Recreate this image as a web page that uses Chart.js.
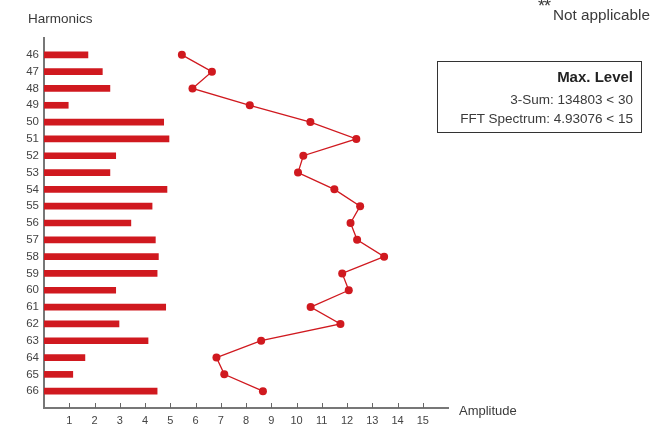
<!DOCTYPE html>
<html>
<head>
<meta charset="utf-8">
<script src="https://cdn.jsdelivr.net/npm/chart.js@4"></script>
<style>
  body { margin: 0; background: #fff; font-family: "Liberation Sans", Arial, sans-serif; color: #3a3a3a; }
  #wrap { position: relative; width: 652px; height: 424px; }
  .lbl { position: absolute; white-space: nowrap; line-height: 1; }
  .r { text-align: right; right: 19px; }
  #box { position: absolute; left: 437px; top: 61px; width: 203px; height: 70px; border: 1px solid #333; }
</style>
</head>
<body>
<div id="wrap">
  <canvas id="chart" width="652" height="424"></canvas>
  <div class="lbl" style="left:28px; top:12px; font-size:13.5px;">Harmonics</div>
  <div class="lbl" style="left:459px; top:404px; font-size:13px;">Amplitude</div>
  <div class="lbl" style="left:538px; top:-3px; font-size:18px; letter-spacing:-1px;">**</div>
  <div class="lbl" style="left:553px; top:7px; font-size:15.3px;">Not applicable</div>
  <div id="box"></div>
  <div class="lbl r" style="top:69px; font-size:15px; font-weight:bold; color:#222;">Max. Level</div>
  <div class="lbl r" style="top:92.5px; font-size:13.5px;">3-Sum: 134803 &lt; 30</div>
  <div class="lbl r" style="top:111.5px; font-size:13.5px;">FFT Spectrum: 4.93076 &lt; 15</div>
</div>
<script>
var harmonics = [46, 47, 48, 49, 50, 51, 52, 53, 54, 55, 56, 57, 58, 59, 60, 61, 62, 63, 64, 65, 66];
var fftValues = [1.74, 2.31, 2.61, 0.96, 4.74, 4.95, 2.84, 2.61, 4.87, 4.28, 3.44, 4.41, 4.53, 4.48, 2.84, 4.82, 2.97, 4.12, 1.62, 1.14, 4.48];
var sumValues = [5.46, 6.65, 5.88, 8.15, 10.55, 12.37, 10.27, 10.06, 11.50, 12.52, 12.14, 12.40, 13.47, 11.81, 12.07, 10.56, 11.74, 8.60, 6.83, 7.14, 8.67];
var amplitudeTicks = [1, 2, 3, 4, 5, 6, 7, 8, 9, 10, 11, 12, 13, 14, 15];

var red = '#d0191f';

// small tick marks pointing up from the x axis
var upTicks = {
    id: 'upTicks',
    afterDraw: function (chart) {
        var c = chart.ctx;
        var xs = chart.scales.x;
        c.save();
        c.strokeStyle = '#666';
        c.lineWidth = 1;
        amplitudeTicks.forEach(function (t) {
            var px = Math.round(xs.getPixelForValue(t)) + 0.5;
            c.beginPath();
            c.moveTo(px, xs.top);
            c.lineTo(px, xs.top - 5);
            c.stroke();
        });
        c.restore();
    }
};

function noPad(s) {
    s.paddingTop = 0;
    s.paddingBottom = 0;
    s.paddingLeft = 0;
    s.paddingRight = 0;
}

var ctx = document.getElementById('chart').getContext('2d');
var myChart = new Chart(ctx, {
    type: 'bar',
    data: {
        datasets: [{
            type: 'line',
            label: '3-Sum',
            data: harmonics.map(function (h, i) { return { x: sumValues[i], y: h }; }),
            borderColor: red,
            backgroundColor: red,
            borderWidth: 1.3,
            pointRadius: 4,
            pointBorderWidth: 0,
            pointBackgroundColor: red,
            fill: false,
            tension: 0
        }, {
            label: 'FFT Spectrum',
            data: harmonics.map(function (h, i) { return { x: fftValues[i], y: h }; }),
            backgroundColor: red,
            borderWidth: 0,
            barThickness: 6
        }]
    },
    options: {
        responsive: false,
        animation: false,
        indexAxis: 'y',
        layout: { padding: { top: 38, right: 204, left: 0, bottom: 0 } },
        plugins: { legend: { display: false }, tooltip: { enabled: false } },
        scales: {
            y: {
                type: 'linear',
                reverse: true,
                offset: false,
                min: 45,
                max: 67,
                afterFit: function (s) { s.width = 44; noPad(s); },
                grid: { display: false, drawTicks: false, offset: false },
                border: { color: '#777', width: 2 },
                ticks: {
                    stepSize: 1,
                    autoSkip: false,
                    padding: 5,
                    color: '#444',
                    font: { family: 'Liberation Sans', size: 11.5 },
                    callback: function (v) { return harmonics.indexOf(v) >= 0 ? String(v) : ''; }
                }
            },
            x: {
                type: 'linear',
                min: 0,
                max: 16,
                afterFit: function (s) { s.height = 16; noPad(s); },
                grid: { display: false, drawTicks: false },
                border: { color: '#777', width: 2 },
                ticks: {
                    stepSize: 1,
                    autoSkip: false,
                    maxRotation: 0,
                    padding: 6,
                    color: '#444',
                    font: { family: 'Liberation Sans', size: 11 },
                    callback: function (v) { return amplitudeTicks.indexOf(v) >= 0 ? String(v) : ''; }
                }
            }
        }
    },
    plugins: [upTicks]
});
</script>
</body>
</html>
